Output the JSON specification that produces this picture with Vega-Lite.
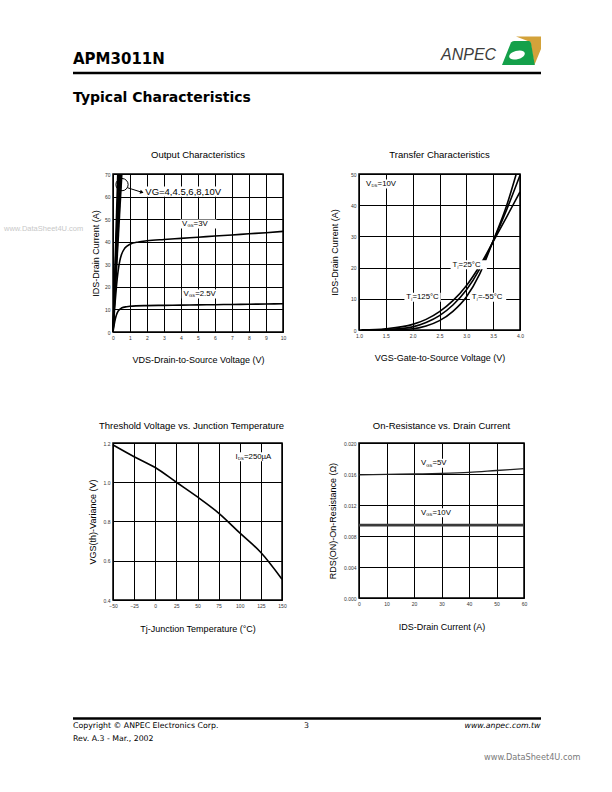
{
"$schema": "https://vega.github.io/schema/vega-lite/v6.json",
"padding": {"left": 3, "top": 33, "right": 0, "bottom": 0},
"background": "white",
"columns": 2,
"bounds": "flush",
"align": "each",
"spacing": {"row": 111, "column": 76},
"config": {
  "font": "Liberation Sans",
  "view": {"stroke": "#000", "strokeWidth": 1.5},
  "axis": {"grid": true, "gridColor": "#000", "gridWidth": 1, "gridOpacity": 1, "domain": false, "ticks": false,
    "labelFont": "Liberation Sans", "labelFontSize": 5, "labelColor": "#333", "labelPadding": 3, "labelFlush": false, "labelOverlap": false,
    "titleFont": "Liberation Sans", "titleFontSize": 9, "titleFontWeight": "normal", "titleColor": "#000"},
  "title": {"font": "Liberation Sans", "fontSize": 9.5, "fontWeight": "normal", "color": "#000", "offset": 11, "frame": "group"},
  "line": {"color": "#000", "strokeWidth": 1.6},
  "text": {"font": "Liberation Sans", "color": "#000"}
},
"datasets": {
  "header": [
    {"k": "rule", "x": 72, "x2": 540, "y": 73, "t": ""},
    {"k": "h1", "x": 72, "y": 64.3, "x2": 72, "t": "APM3011N"},
    {"k": "h2", "x": 72, "y": 101.7, "x2": 72, "t": "Typical Characteristics"}
  ],
  "logo": [
    {"k": "brand", "x": 440, "y": 59.5, "t": "ANPEC"},
    {"k": "shape", "x": 521, "y": 51, "t": ""}
  ],
  "footer": [
    {"k": "rule", "x": 72, "x2": 540, "y": 718.5, "t": ""},
    {"k": "left", "x": 72, "y": 727.5, "x2": 72, "t": "Copyright © ANPEC Electronics Corp."},
    {"k": "left", "x": 72, "y": 741, "x2": 72, "t": "Rev. A.3 - Mar., 2002"},
    {"k": "page", "x": 303, "y": 727.5, "x2": 303, "t": "3"},
    {"k": "url", "x": 539.5, "y": 727.5, "x2": 539.5, "t": "www.anpec.com.tw"}
  ],
  "footer2": [
    {"x": 483, "y": 760, "t": "www.DataSheet4U.com"}
  ],
  "c1curves": [
    {"s": "g1", "x": 0, "y": 0}, {"s": "g1", "x": 0.28, "y": 70},
    {"s": "g2", "x": 0, "y": 0}, {"s": "g2", "x": 0.34, "y": 70},
    {"s": "g3", "x": 0, "y": 0}, {"s": "g3", "x": 0.40, "y": 70},
    {"s": "g4", "x": 0, "y": 0}, {"s": "g4", "x": 0.46, "y": 70},
    {"s": "g5", "x": 0, "y": 0}, {"s": "g5", "x": 0.52, "y": 70},
    {"s": "v3", "x": 0, "y": 0}, {"s": "v3", "x": 0.1, "y": 11}, {"s": "v3", "x": 0.2, "y": 20}, {"s": "v3", "x": 0.3, "y": 27},
    {"s": "v3", "x": 0.4, "y": 31.5}, {"s": "v3", "x": 0.5, "y": 34.3}, {"s": "v3", "x": 0.7, "y": 37.2}, {"s": "v3", "x": 1, "y": 38.9},
    {"s": "v3", "x": 1.5, "y": 39.9}, {"s": "v3", "x": 2, "y": 40.4}, {"s": "v3", "x": 3, "y": 41}, {"s": "v3", "x": 4, "y": 41.5},
    {"s": "v3", "x": 5, "y": 42}, {"s": "v3", "x": 6, "y": 42.5}, {"s": "v3", "x": 7, "y": 43}, {"s": "v3", "x": 8, "y": 43.5},
    {"s": "v3", "x": 9, "y": 44}, {"s": "v3", "x": 10, "y": 44.6},
    {"s": "v25", "x": 0, "y": 0}, {"s": "v25", "x": 0.1, "y": 4.5}, {"s": "v25", "x": 0.2, "y": 7.5}, {"s": "v25", "x": 0.3, "y": 9.2},
    {"s": "v25", "x": 0.5, "y": 10.6}, {"s": "v25", "x": 0.8, "y": 11.2}, {"s": "v25", "x": 1, "y": 11.4}, {"s": "v25", "x": 2, "y": 11.7},
    {"s": "v25", "x": 3, "y": 11.8}, {"s": "v25", "x": 4, "y": 11.9}, {"s": "v25", "x": 5, "y": 12}, {"s": "v25", "x": 6, "y": 12.1},
    {"s": "v25", "x": 7, "y": 12.2}, {"s": "v25", "x": 8, "y": 12.3}, {"s": "v25", "x": 9, "y": 12.4}, {"s": "v25", "x": 10, "y": 12.5}
  ],
  "c1circle": [{"x": 0.53, "y": 65.3}],
  "c1arrow": [{"x": 0.86, "y": 63.9}, {"x": 1.7, "y": 61.9}],
  "c1head": [{"x": 1.7, "y": 61.9}],
  "c1labels": [
    {"k": "v", "x": 4.06, "y": 47.8, "main": "V", "sub": "GS", "rest": "=3V"},
    {"k": "v", "x": 4.15, "y": 16.8, "main": "V", "sub": "GS", "rest": "=2.5V"},
    {"k": "p", "x": 1.9, "y": 62.2, "main": "VG=4,4.5,6,8,10V", "sub": "", "rest": ""}
  ],
  "c1mark": [{"x": -6.41, "y": 45.6, "t": "www.DataSheet4U.com"}],
  "c2curves": [
    {"s": "t125", "x": 1.05, "y": 0}, {"s": "t125", "x": 1.5, "y": 0.4}, {"s": "t125", "x": 2.0, "y": 1.8}, {"s": "t125", "x": 2.25, "y": 3.4},
    {"s": "t125", "x": 2.5, "y": 5.9}, {"s": "t125", "x": 2.75, "y": 9.4}, {"s": "t125", "x": 3.0, "y": 14.2}, {"s": "t125", "x": 3.25, "y": 20.6},
    {"s": "t125", "x": 3.5, "y": 28.3}, {"s": "t125", "x": 3.75, "y": 36.2}, {"s": "t125", "x": 4.0, "y": 44.3},
    {"s": "t25", "x": 1.05, "y": 0}, {"s": "t25", "x": 1.5, "y": 0.15}, {"s": "t25", "x": 2.0, "y": 1.0}, {"s": "t25", "x": 2.25, "y": 2.4},
    {"s": "t25", "x": 2.5, "y": 4.6}, {"s": "t25", "x": 2.75, "y": 8.0}, {"s": "t25", "x": 3.0, "y": 12.8}, {"s": "t25", "x": 3.25, "y": 19.6},
    {"s": "t25", "x": 3.5, "y": 28.5}, {"s": "t25", "x": 3.75, "y": 38.5}, {"s": "t25", "x": 4.0, "y": 49.6},
    {"s": "t55", "x": 1.05, "y": 0}, {"s": "t55", "x": 1.5, "y": 0.05}, {"s": "t55", "x": 2.0, "y": 0.4}, {"s": "t55", "x": 2.25, "y": 1.3},
    {"s": "t55", "x": 2.5, "y": 3.0}, {"s": "t55", "x": 2.75, "y": 6.0}, {"s": "t55", "x": 3.0, "y": 10.6}, {"s": "t55", "x": 3.25, "y": 18.0},
    {"s": "t55", "x": 3.5, "y": 28.6}, {"s": "t55", "x": 3.75, "y": 39.8}, {"s": "t55", "x": 3.93, "y": 50}
  ],
  "c2labels": [
    {"k": "v", "x": 1.13, "y": 46.8, "main": "V", "sub": "DS", "rest": "=10V"},
    {"k": "t", "x": 2.74, "y": 20.9, "main": "T", "sub": "j", "rest": "=25°C"},
    {"k": "t", "x": 1.88, "y": 10.5, "main": "T", "sub": "j", "rest": "=125°C"},
    {"k": "t", "x": 3.10, "y": 10.5, "main": "T", "sub": "j", "rest": "=-55°C"}
  ],
  "c3curve": [
    {"x": -50, "y": 1.19}, {"x": -25, "y": 1.13}, {"x": 0, "y": 1.075}, {"x": 25, "y": 1.0}, {"x": 50, "y": 0.925},
    {"x": 75, "y": 0.843}, {"x": 100, "y": 0.742}, {"x": 125, "y": 0.642}, {"x": 150, "y": 0.506}
  ],
  "c3labels": [
    {"k": "i", "x": 95, "y": 1.13, "main": "I", "sub": "DS", "rest": "=250µA"}
  ],
  "c4curves": [
    {"s": "v5", "x": 0, "y": 0.0159}, {"s": "v5", "x": 10, "y": 0.01595}, {"s": "v5", "x": 20, "y": 0.016}, {"s": "v5", "x": 30, "y": 0.01607},
    {"s": "v5", "x": 40, "y": 0.0162}, {"s": "v5", "x": 50, "y": 0.01645}, {"s": "v5", "x": 60, "y": 0.0167}
  ],
  "c4flat": [{"s": "v10", "x": 0, "y": 0.0094}, {"s": "v10", "x": 60, "y": 0.0094}],
  "c4labels": [
    {"k": "v", "x": 22.5, "y": 0.01738, "main": "V", "sub": "GS", "rest": "=5V"},
    {"k": "v", "x": 22.5, "y": 0.0110, "main": "V", "sub": "GS", "rest": "=10V"}
  ]
},
"concat": [
  {
    "width": 170, "height": 30,
    "view": {"stroke": null},
    "data": {"name": "header"},
    "encoding": {
      "x": {"field": "x", "type": "quantitative", "scale": {"domain": [112, 282], "nice": false, "zero": false}, "axis": null},
      "y": {"field": "y", "type": "quantitative", "scale": {"domain": [33, 63], "nice": false, "zero": false, "reverse": true}, "axis": null}
    },
    "layer": [
      {"transform": [{"filter": "datum.k == 'rule'"}], "mark": {"type": "rule", "strokeWidth": 2.5, "color": "#000"}, "encoding": {"x2": {"field": "x2"}}},
      {"transform": [{"filter": "datum.k == 'h1'"}], "mark": {"type": "text", "align": "left", "baseline": "alphabetic", "font": "DejaVu Sans", "fontWeight": "bold", "fontSize": 15}, "encoding": {"text": {"field": "t"}}},
      {"transform": [{"filter": "datum.k == 'h2'"}], "mark": {"type": "text", "align": "left", "baseline": "alphabetic", "font": "DejaVu Sans", "fontWeight": "bold", "fontSize": 14}, "encoding": {"text": {"field": "t"}}}
    ]
  },
  {
    "width": 170, "height": 30,
    "view": {"stroke": null},
    "data": {"name": "logo"},
    "encoding": {
      "x": {"field": "x", "type": "quantitative", "scale": {"domain": [358, 528], "nice": false, "zero": false}, "axis": null},
      "y": {"field": "y", "type": "quantitative", "scale": {"domain": [33, 63], "nice": false, "zero": false, "reverse": true}, "axis": null}
    },
    "layer": [
      {"transform": [{"filter": "datum.k == 'brand'"}], "mark": {"type": "text", "align": "left", "baseline": "alphabetic", "font": "Liberation Sans", "fontStyle": "italic", "fontSize": 16, "color": "#3c3c3c"}, "encoding": {"text": {"field": "t"}}},
      {"transform": [{"filter": "datum.k == 'shape'"}], "mark": {"type": "point", "filled": true, "size": 1600, "opacity": 1, "strokeWidth": 0, "color": "#d3a23a", "shape": "M -0.3 -0.72 L 0.95 -0.72 L 0.95 -0.1 L 0.62 0.7 L 0.42 -0.45 Z"}},
      {"transform": [{"filter": "datum.k == 'shape'"}], "mark": {"type": "point", "filled": true, "size": 1600, "opacity": 1, "strokeWidth": 0, "color": "#14a04a", "shape": "M -1 0.7 L -0.55 -0.42 Q -0.5 -0.5 -0.4 -0.5 L 0.35 -0.5 Q 0.42 -0.5 0.45 -0.4 L 0.64 0.7 Z"}},
      {"transform": [{"filter": "datum.k == 'shape'"}], "mark": {"type": "point", "filled": true, "size": 1600, "opacity": 1, "strokeWidth": 0, "color": "#ffffff", "shape": "M -0.636 0.304 A 0.4 0.2 -15 1 0 0.136 0.096 A 0.4 0.2 -15 1 0 -0.636 0.304 Z"}}
    ]
  },
  {
    "width": 170, "height": 158,
    "title": {"text": "Output Characteristics"},
    "encoding": {
      "x": {"field": "x", "type": "quantitative", "scale": {"domain": [0, 10], "nice": false, "zero": false},
        "axis": {"values": [0, 1, 2, 3, 4, 5, 6, 7, 8, 9, 10], "title": "VDS-Drain-to-Source Voltage (V)", "titlePadding": 15}},
      "y": {"field": "y", "type": "quantitative", "scale": {"domain": [0, 70], "nice": false, "zero": false},
        "axis": {"values": [0, 10, 20, 30, 40, 50, 60, 70], "title": "IDS-Drain Current (A)", "titlePadding": 4}}
    },
    "layer": [
      {"data": {"name": "c1curves"}, "mark": {"type": "line", "interpolate": "monotone"}, "encoding": {"detail": {"field": "s"}}},
      {"data": {"name": "c1circle"}, "mark": {"type": "point", "shape": "circle", "size": 150, "filled": false, "stroke": "#000", "strokeWidth": 1, "opacity": 1}},
      {"data": {"name": "c1arrow"}, "mark": {"type": "line", "strokeWidth": 1}},
      {"data": {"name": "c1head"}, "mark": {"type": "point", "shape": "triangle-right", "size": 18, "filled": true, "color": "#000", "opacity": 1, "angle": 17}},
      {"data": {"name": "c1labels"}, "transform": [{"filter": "datum.k == 'v'"}], "mark": {"type": "point", "filled": true, "size": 3600, "opacity": 1, "strokeWidth": 0, "color": "#fff", "shape": "M -0.06 -0.15 L 1.15 -0.15 L 1.15 0.15 L -0.06 0.15 Z"}},
      {"data": {"name": "c1labels"}, "transform": [{"filter": "datum.k == 'p'"}], "mark": {"type": "point", "filled": true, "size": 3600, "opacity": 1, "strokeWidth": 0, "color": "#fff", "shape": "M -0.06 -0.17 L 2.75 -0.17 L 2.75 0.17 L -0.06 0.17 Z"}},
      {"data": {"name": "c1labels"}, "transform": [{"filter": "datum.k == 'v'"}], "mark": {"type": "text", "align": "left", "baseline": "middle", "fontSize": 7.8}, "encoding": {"text": {"field": "main"}}},
      {"data": {"name": "c1labels"}, "transform": [{"filter": "datum.k == 'p'"}], "mark": {"type": "text", "align": "left", "baseline": "middle", "fontSize": 9.5}, "encoding": {"text": {"field": "main"}}},
      {"data": {"name": "c1labels"}, "transform": [{"filter": "datum.k == 'v'"}], "mark": {"type": "text", "align": "left", "baseline": "middle", "fontSize": 4.2, "dx": 5.4, "dy": 2.2}, "encoding": {"text": {"field": "sub"}}},
      {"data": {"name": "c1labels"}, "transform": [{"filter": "datum.k == 'v'"}], "mark": {"type": "text", "align": "left", "baseline": "middle", "fontSize": 7.8, "dx": 11.6}, "encoding": {"text": {"field": "rest"}}},
      {"data": {"name": "c1mark"}, "mark": {"type": "text", "align": "left", "baseline": "middle", "fontSize": 7.5, "color": "#c8c8c8"}, "encoding": {"text": {"field": "t"}}}
    ]
  },
  {
    "width": 161, "height": 156,
    "title": {"text": "Transfer Characteristics"},
    "encoding": {
      "x": {"field": "x", "type": "quantitative", "scale": {"domain": [1, 4], "nice": false, "zero": false},
        "axis": {"values": [1, 1.5, 2, 2.5, 3, 3.5, 4], "format": ".1f", "title": "VGS-Gate-to-Source Voltage (V)", "titlePadding": 15}},
      "y": {"field": "y", "type": "quantitative", "scale": {"domain": [0, 50], "nice": false, "zero": false},
        "axis": {"values": [0, 10, 20, 30, 40, 50], "title": "IDS-Drain Current (A)", "titlePadding": 11}}
    },
    "layer": [
      {"data": {"name": "c2curves"}, "mark": {"type": "line", "interpolate": "monotone"}, "encoding": {"detail": {"field": "s"}}},
      {"data": {"name": "c2labels"}, "mark": {"type": "point", "filled": true, "size": 3600, "opacity": 1, "strokeWidth": 0, "color": "#fff", "shape": "M -0.06 -0.15 L 1.15 -0.15 L 1.15 0.15 L -0.06 0.15 Z"}},
      {"data": {"name": "c2labels"}, "mark": {"type": "text", "align": "left", "baseline": "middle", "fontSize": 7.8}, "encoding": {"text": {"field": "main"}}},
      {"data": {"name": "c2labels"}, "transform": [{"filter": "datum.k == 'v'"}], "mark": {"type": "text", "align": "left", "baseline": "middle", "fontSize": 4.2, "dx": 5.4, "dy": 2.2}, "encoding": {"text": {"field": "sub"}}},
      {"data": {"name": "c2labels"}, "transform": [{"filter": "datum.k == 'v'"}], "mark": {"type": "text", "align": "left", "baseline": "middle", "fontSize": 7.8, "dx": 11.6}, "encoding": {"text": {"field": "rest"}}},
      {"data": {"name": "c2labels"}, "transform": [{"filter": "datum.k == 't'"}], "mark": {"type": "text", "align": "left", "baseline": "middle", "fontSize": 4.2, "dx": 5, "dy": 2.2}, "encoding": {"text": {"field": "sub"}}},
      {"data": {"name": "c2labels"}, "transform": [{"filter": "datum.k == 't'"}], "mark": {"type": "text", "align": "left", "baseline": "middle", "fontSize": 7.8, "dx": 6.2}, "encoding": {"text": {"field": "rest"}}}
    ]
  },
  {
    "width": 169, "height": 157,
    "title": {"text": "Threshold Voltage vs. Junction Temperature", "dx": -6},
    "encoding": {
      "x": {"field": "x", "type": "quantitative", "scale": {"domain": [-50, 150], "nice": false, "zero": false},
        "axis": {"values": [-50, -25, 0, 25, 50, 75, 100, 125, 150], "title": "Tj-Junction Temperature (°C)", "titlePadding": 16}},
      "y": {"field": "y", "type": "quantitative", "scale": {"domain": [0.4, 1.2], "nice": false, "zero": false},
        "axis": {"values": [0.4, 0.6, 0.8, 1.0, 1.2], "format": ".1f", "title": "VGS(th)-Variance (V)", "titlePadding": 6}}
    },
    "layer": [
      {"data": {"name": "c3curve"}, "mark": {"type": "line", "interpolate": "monotone"}},
      {"data": {"name": "c3labels"}, "mark": {"type": "point", "filled": true, "size": 3600, "opacity": 1, "strokeWidth": 0, "color": "#fff", "shape": "M -0.06 -0.15 L 1.25 -0.15 L 1.25 0.15 L -0.06 0.15 Z"}},
      {"data": {"name": "c3labels"}, "mark": {"type": "text", "align": "left", "baseline": "middle", "fontSize": 7.8}, "encoding": {"text": {"field": "main"}}},
      {"data": {"name": "c3labels"}, "mark": {"type": "text", "align": "left", "baseline": "middle", "fontSize": 4.2, "dx": 2.4, "dy": 2.2}, "encoding": {"text": {"field": "sub"}}},
      {"data": {"name": "c3labels"}, "mark": {"type": "text", "align": "left", "baseline": "middle", "fontSize": 7.8, "dx": 8.5}, "encoding": {"text": {"field": "rest"}}}
    ]
  },
  {
    "width": 165, "height": 155,
    "title": {"text": "On-Resistance vs. Drain Current"},
    "encoding": {
      "x": {"field": "x", "type": "quantitative", "scale": {"domain": [0, 60], "nice": false, "zero": false},
        "axis": {"values": [0, 10, 20, 30, 40, 50, 60], "title": "IDS-Drain Current (A)", "titlePadding": 16}},
      "y": {"field": "y", "type": "quantitative", "scale": {"domain": [0, 0.02], "nice": false, "zero": false},
        "axis": {"values": [0, 0.004, 0.008, 0.012, 0.016, 0.02], "format": ".3f", "title": "RDS(ON)-On-Resistance (Ω)", "titlePadding": 6}}
    },
    "layer": [
      {"data": {"name": "c4curves"}, "mark": {"type": "line", "interpolate": "monotone", "strokeWidth": 1.3, "color": "#222"}},
      {"data": {"name": "c4flat"}, "mark": {"type": "line", "strokeWidth": 2.6, "color": "#3a3a3a"}},
      {"data": {"name": "c4labels"}, "mark": {"type": "point", "filled": true, "size": 3600, "opacity": 1, "strokeWidth": 0, "color": "#fff", "shape": "M -0.06 -0.15 L 1.05 -0.15 L 1.05 0.15 L -0.06 0.15 Z"}},
      {"data": {"name": "c4labels"}, "mark": {"type": "text", "align": "left", "baseline": "middle", "fontSize": 7.8}, "encoding": {"text": {"field": "main"}}},
      {"data": {"name": "c4labels"}, "mark": {"type": "text", "align": "left", "baseline": "middle", "fontSize": 4.2, "dx": 5.4, "dy": 2.2}, "encoding": {"text": {"field": "sub"}}},
      {"data": {"name": "c4labels"}, "mark": {"type": "text", "align": "left", "baseline": "middle", "fontSize": 7.8, "dx": 11.6}, "encoding": {"text": {"field": "rest"}}}
    ]
  },
  {
    "width": 170, "height": 40,
    "view": {"stroke": null},
    "data": {"name": "footer"},
    "encoding": {
      "x": {"field": "x", "type": "quantitative", "scale": {"domain": [112, 282], "nice": false, "zero": false}, "axis": null},
      "y": {"field": "y", "type": "quantitative", "scale": {"domain": [711, 751], "nice": false, "zero": false, "reverse": true}, "axis": null}
    },
    "layer": [
      {"transform": [{"filter": "datum.k == 'rule'"}], "mark": {"type": "rule", "strokeWidth": 2.5, "color": "#000"}, "encoding": {"x2": {"field": "x2"}}},
      {"transform": [{"filter": "datum.k == 'left' || datum.k == 'page'"}], "mark": {"type": "text", "align": "left", "baseline": "alphabetic", "font": "DejaVu Sans", "fontSize": 7.8}, "encoding": {"text": {"field": "t"}}},
      {"transform": [{"filter": "datum.k == 'url'"}], "mark": {"type": "text", "align": "right", "baseline": "alphabetic", "font": "DejaVu Sans", "fontStyle": "italic", "fontSize": 7.8}, "encoding": {"text": {"field": "t"}}}
    ]
  },
  {
    "width": 170, "height": 40,
    "view": {"stroke": null},
    "data": {"name": "footer2"},
    "encoding": {
      "x": {"field": "x", "type": "quantitative", "scale": {"domain": [358, 528], "nice": false, "zero": false}, "axis": null},
      "y": {"field": "y", "type": "quantitative", "scale": {"domain": [711, 751], "nice": false, "zero": false, "reverse": true}, "axis": null}
    },
    "layer": [
      {"mark": {"type": "text", "align": "left", "baseline": "alphabetic", "font": "DejaVu Sans", "fontSize": 8.2, "color": "#7a7a7a"}, "encoding": {"text": {"field": "t"}}}
    ]
  }
]
}
